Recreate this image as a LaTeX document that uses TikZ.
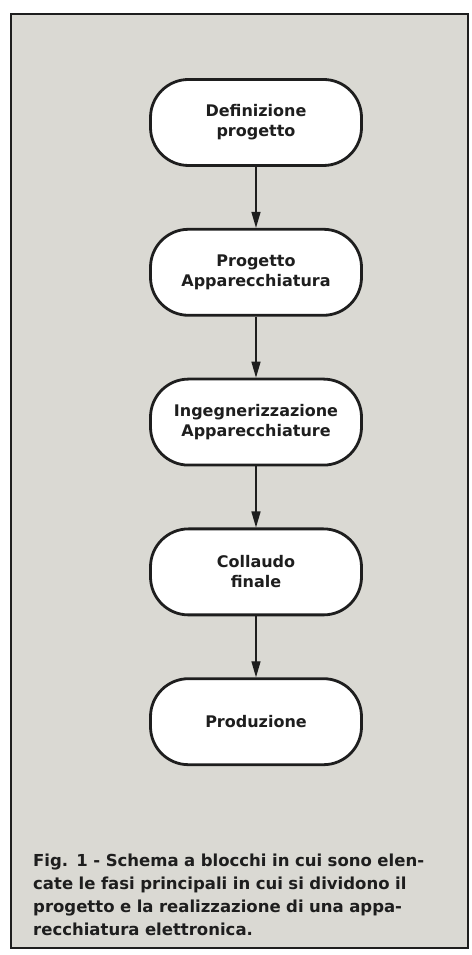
\documentclass[tikz,border=0pt]{standalone}
\usepackage		 {fontspec}
\setmainfont		 {DejaVu Sans}
\usepackage		 {xcolor   }
\usetikzlibrary{shapes,calc,positioning}
\usetikzlibrary	 {arrows.meta}
\definecolor{fondo}{RGB}{218,217,211}
\definecolor{inchiostro}{RGB}{30,30,30}

\begin{document}
\begin{tikzpicture}[x=1pt,y=1pt]
  \tikzset{fase/.style={draw=inchiostro,line width=2.8pt,fill=white,rounded corners=38pt,
      minimum width=211pt,minimum height=86pt,align=center,text=inchiostro,
      font=\fontsize{16}{20}\selectfont\bfseries}}
  \tikzset{freccia/.style={draw=inchiostro,line width=1.4pt,-{Triangle[length=16pt,width=9pt]}}}
  \useasboundingbox (0,0) rectangle (471,955);
  \fill[white] (0,0) rectangle (471,955);
  \draw[fill=fondo,draw=inchiostro,line width=2pt] (11,7) rectangle (468,941);
  \begin{scope}[node distance=61pt]
  \node [fase] (defin) at (256,832.5) {Definizione\\progetto};
  \node [fase,below=of defin] (progetto) {Progetto\\Apparecchiatura};
  \node [fase,below=of progetto] (ingegn) {Ingegnerizzazione\\Apparecchiature};
  \node [fase,below=of ingegn] (collaudo) {Collaudo\\finale};
  \node [fase,below=of collaudo] (produz) {Produzione};
  \end{scope}
  \draw[freccia] (defin) -- (progetto);
  \draw[freccia] (progetto) -- (ingegn);
  \draw[freccia] (ingegn) -- (collaudo);
  \draw[freccia] (collaudo) -- (produz);
  \node[anchor=north west,inner sep=0,text width=419pt,align=left,text=inchiostro,
        font=\fontsize{16.5}{23}\selectfont\bfseries] (didascalia) at (33,101)
    {\makebox[419pt][s]{Fig. 1 - Schema a blocchi in cui sono elen-}\\
     \makebox[419pt][s]{cate le fasi principali in cui si dividono il}\\
     \makebox[419pt][s]{progetto e la realizzazione di una appa-}\\
     recchiatura elettronica.};
\end{tikzpicture}
\end{document}
